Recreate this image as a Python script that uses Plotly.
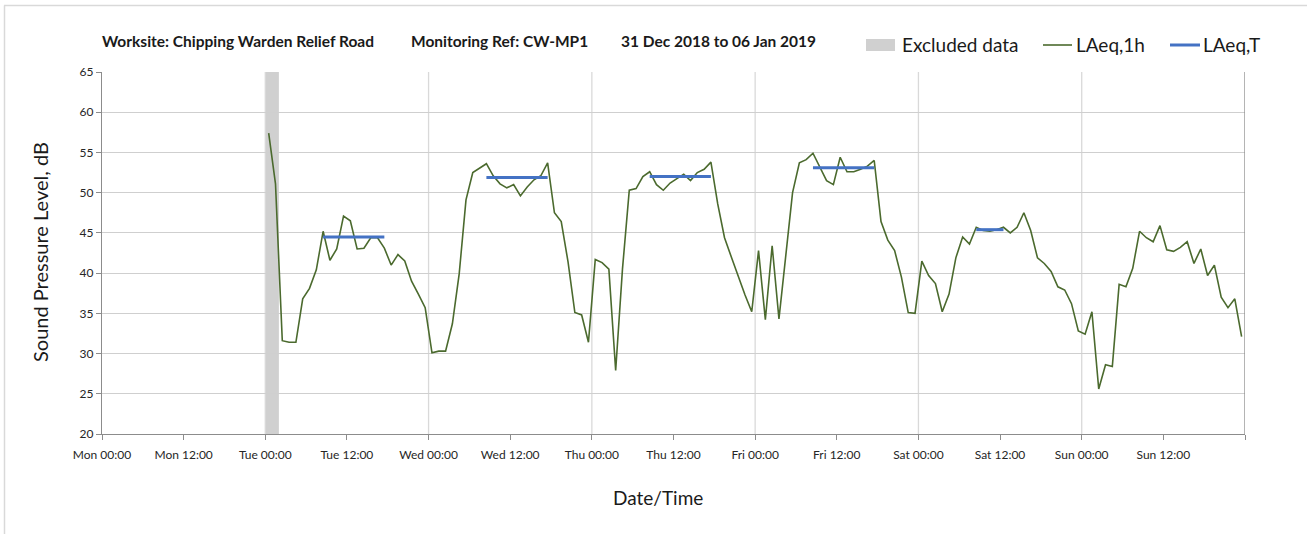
import plotly.graph_objects as go
import pandas as pd

# ---------------- data ----------------
week_start = "2018-12-31 00:00"          # Monday
week_end = "2019-01-07 00:00"
first_reading = "2019-01-01 00:30"       # hourly LAeq readings, Tue 00:30 .. Sun 23:30

laeq_tue = [57.4, 51.1, 31.6, 31.4, 31.4, 36.8, 38.1, 40.4, 45.2, 41.6, 43.0, 47.1,
            46.5, 43.0, 43.1, 44.4, 44.4, 43.1, 41.0, 42.3, 41.5, 39.0, 37.4, 35.7]
laeq_wed = [30.1, 30.3, 30.3, 33.7, 39.9, 49.1, 52.5, 53.1, 53.6, 52.1, 51.1, 50.6,
            51.0, 49.6, 50.7, 51.6, 52.1, 53.7, 47.5, 46.4, 41.4, 35.1, 34.8, 31.4]
laeq_thu = [41.7, 41.3, 40.5, 27.9, 40.5, 50.3, 50.5, 52.0, 52.6, 51.0, 50.3, 51.2,
            51.7, 52.3, 51.5, 52.5, 52.9, 53.8, 48.6, 44.4, 42.0, 39.6, 37.3, 35.2]
laeq_fri = [42.8, 34.2, 43.4, 34.3, 42.0, 50.0, 53.7, 54.1, 54.9, 53.2, 51.5, 51.0,
            54.4, 52.6, 52.6, 52.9, 53.3, 54.0, 46.4, 44.1, 42.8, 39.5, 35.1, 35.0]
laeq_sat = [41.5, 39.7, 38.7, 35.2, 37.4, 41.9, 44.5, 43.6, 45.7, 45.3, 45.2, 45.4,
            45.7, 45.0, 45.7, 47.5, 45.3, 41.9, 41.2, 40.2, 38.3, 37.9, 36.2, 32.8]
laeq_sun = [32.4, 35.2, 25.6, 28.6, 28.4, 38.6, 38.3, 40.6, 45.2, 44.4, 43.9, 45.9,
            42.9, 42.7, 43.2, 43.9, 41.2, 43.0, 39.7, 41.0, 37.0, 35.7, 36.8, 32.1]

laeqT_start = ["2019-01-01 08:30", "2019-01-02 08:30", "2019-01-03 08:30",
               "2019-01-04 08:30", "2019-01-05 08:30"]
laeqT_end = ["2019-01-01 17:30", "2019-01-02 17:30", "2019-01-03 17:30",
             "2019-01-04 17:30", "2019-01-05 12:30"]
laeqT_value = [44.5, 51.9, 52.0, 53.1, 45.4]

excluded_start = "2019-01-01 00:00"
excluded_end = "2019-01-01 02:00"

tick_labels = ["Mon 00:00", "Mon 12:00", "Tue 00:00", "Tue 12:00", "Wed 00:00", "Wed 12:00",
               "Thu 00:00", "Thu 12:00", "Fri 00:00", "Fri 12:00", "Sat 00:00", "Sat 12:00",
               "Sun 00:00", "Sun 12:00", ""]

header_site = "Worksite: Chipping Warden Relief Road"
header_ref = "Monitoring Ref: CW-MP1"
header_dates = "31 Dec 2018 to 06 Jan 2019"

# ---------------- build ----------------
laeq_1h = laeq_tue + laeq_wed + laeq_thu + laeq_fri + laeq_sat + laeq_sun
times = pd.date_range(first_reading, periods=len(laeq_1h), freq="h")
tick_vals = pd.date_range(week_start, week_end, freq="12h")
day_bounds = pd.date_range(week_start, week_end, freq="D")[1:-1]

tx, ty = [], []
for s, e, v in zip(laeqT_start, laeqT_end, laeqT_value):
    tx += [s, e, None]
    ty += [v, v, None]

W, H = 1307, 534
L, R, T, B = 102, 62, 72, 100
PW, PH = W - L - R, H - T - B

def px(x):
    return (x - L) / PW

def py(y):
    return (H - B - y) / PH

FONT = "Lato"
GREEN = "#4b6a2e"
BLUE = "#4472c4"
GRAY_BAND = "#d0d0d0"
TXT = "#262626"

fig = go.Figure()
fig.add_trace(go.Scatter(x=times, y=laeq_1h, mode="lines", name="LAeq,1h",
                         line=dict(color=GREEN, width=1.6), showlegend=False))
fig.add_trace(go.Scatter(x=tx, y=ty, mode="lines", name="LAeq,T",
                         line=dict(color=BLUE, width=3), showlegend=False))

shapes = []
shapes.append(dict(type="rect", xref="x", yref="paper", x0=excluded_start, x1=excluded_end,
                   y0=0, y1=1, fillcolor=GRAY_BAND, line=dict(width=0), layer="between"))
for d in day_bounds:
    shapes.append(dict(type="line", xref="x", yref="paper", x0=d, x1=d, y0=0, y1=1,
                       line=dict(color="#d9d9d9", width=1.3), layer="between"))
shapes.append(dict(type="line", xref="x", yref="paper", x0=week_end, x1=week_end, y0=0, y1=1,
                   line=dict(color="#8c8c8c", width=1.3), layer="above"))
# chart frame
shapes.append(dict(type="line", xref="paper", yref="paper", x0=px(4), x1=px(1310),
                   y0=py(5.5), y1=py(5.5), line=dict(color="#d9d9d9", width=1.5)))
shapes.append(dict(type="line", xref="paper", yref="paper", x0=px(4.5), x1=px(4.5),
                   y0=py(5.5), y1=py(540), line=dict(color="#d9d9d9", width=1.5)))

# legend (manual)
LY = 45
shapes.append(dict(type="rect", xref="paper", yref="paper", x0=px(866), x1=px(895),
                   y0=py(LY + 6), y1=py(LY - 6), fillcolor=GRAY_BAND, line=dict(width=0)))
shapes.append(dict(type="line", xref="paper", yref="paper", x0=px(1043), x1=px(1072),
                   y0=py(LY), y1=py(LY), line=dict(color=GREEN, width=1.6)))
shapes.append(dict(type="line", xref="paper", yref="paper", x0=px(1170), x1=px(1200),
                   y0=py(LY), y1=py(LY), line=dict(color=BLUE, width=3)))

annotations = []
def ann(text, x, y, size, bold=False, anchor="left", angle=0):
    annotations.append(dict(text=("<b>%s</b>" % text) if bold else text, xref="paper", yref="paper",
                            x=px(x), y=py(y), xanchor=anchor, yanchor="middle", showarrow=False,
                            textangle=angle, font=dict(family=FONT, size=size, color="#1a1a1a")))

ann(header_site, 100, 41, 15.5, bold=True)
ann(header_ref, 409, 41, 15.5, bold=True)
ann(header_dates, 619, 41, 15.5, bold=True)
ann("Excluded data", 900, LY, 19)
ann("LAeq,1h", 1074, LY, 19)
ann("LAeq,T", 1201, LY, 19)
ann("Date/Time", 658, 497, 19, anchor="center")
ann("Sound Pressure Level, dB", 40, 252, 20, anchor="center", angle=-90)

fig.update_layout(
    width=W, height=H,
    margin=dict(l=L, r=R, t=T, b=B, autoexpand=False),
    paper_bgcolor="white", plot_bgcolor="white",
    font=dict(family=FONT, color=TXT),
    shapes=shapes, annotations=annotations, showlegend=False,
    xaxis=dict(type="date", range=[week_start, week_end], tickvals=tick_vals, ticktext=tick_labels,
               showgrid=False, zeroline=False, showline=True, linecolor="#8c8c8c", linewidth=1.3,
               ticks="outside", ticklen=5, tickcolor="#8c8c8c", tickwidth=1, ticklabelstandoff=4,
               tickfont=dict(family=FONT, size=12, color=TXT)),
    yaxis=dict(range=[20, 65], dtick=5, tick0=20, showgrid=True, gridcolor="#cfcfcf", gridwidth=1.3,
               zeroline=False, showline=True, linecolor="#8c8c8c", linewidth=1.3,
               ticks="outside", ticklen=5, tickcolor="#8c8c8c",
               tickfont=dict(family=FONT, size=12, color=TXT)),
)

fig.write_html("out.html", config={"displayModeBar": False},
               post_script="document.body.style.margin='0';document.body.style.overflow='hidden';")
